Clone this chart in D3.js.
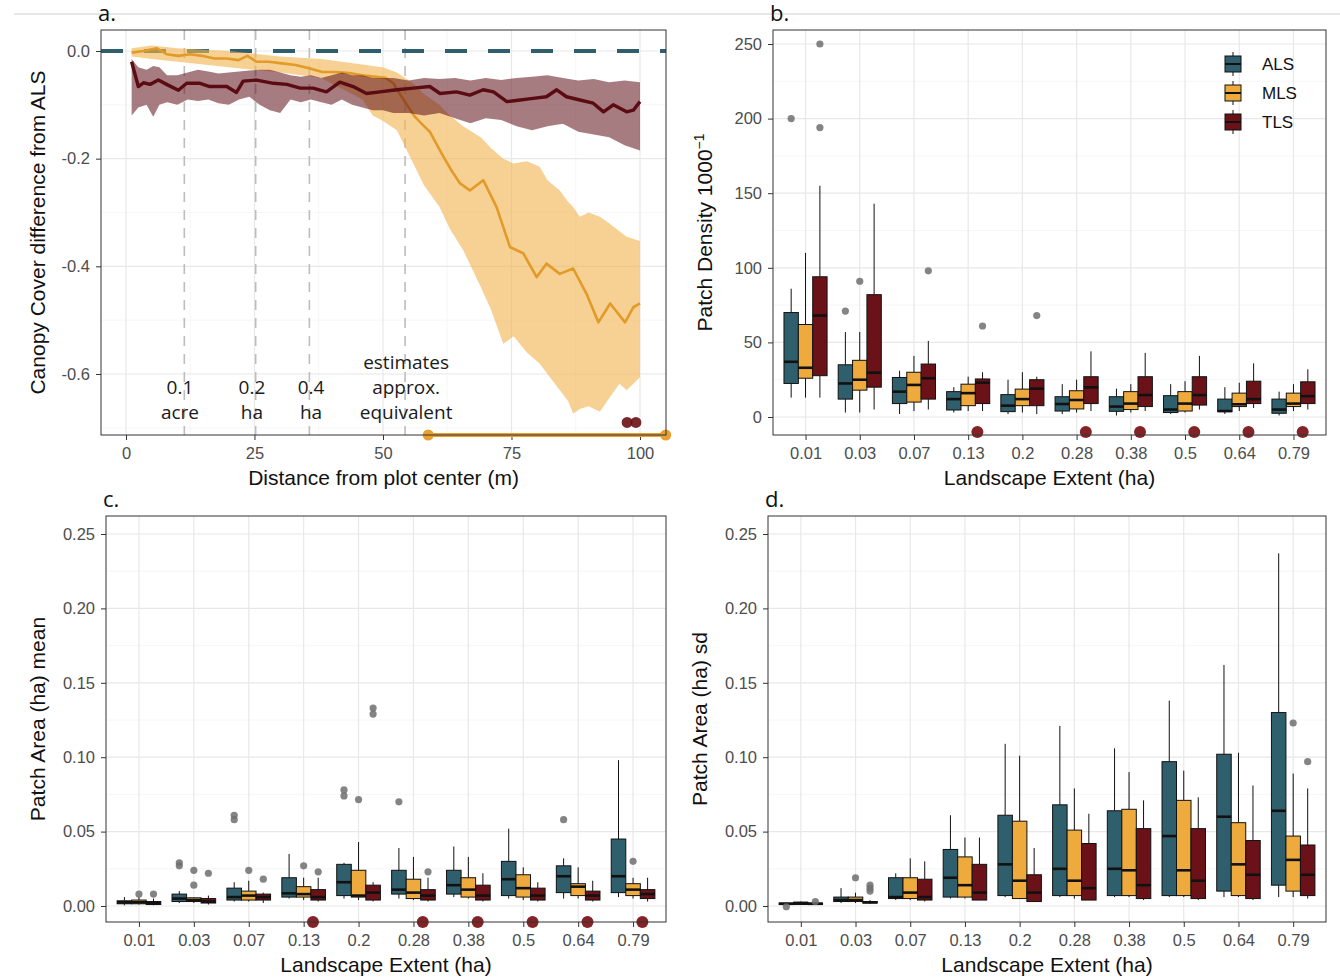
<!DOCTYPE html>
<html>
<head>
<meta charset="utf-8">
<script src="https://cdn.jsdelivr.net/npm/d3@7"></script>
<style>
  body { margin: 0; background: #fff; }
</style>
</head>
<body>
<div id="fig"></div>
<script>
// ---------------- data ----------------
const extents = ["0.01", "0.03", "0.07", "0.13", "0.2", "0.28", "0.38", "0.5", "0.64", "0.79"];
const groups = ["ALS", "MLS", "TLS"];
const groupColors = ["#2f5f6c", "#eeaa3c", "#6b1219"];

// panel a: canopy cover difference from ALS vs distance (m)
const tlsLine = [[1.1,-0.020],[2.4,-0.066],[3.4,-0.059],[4.7,-0.062],[6.3,-0.054],[7.9,-0.062],[10.2,-0.073],
  [11.8,-0.060],[14.4,-0.060],[16.3,-0.066],[19.6,-0.066],[21.5,-0.077],[22.8,-0.056],[25.4,-0.054],[28.7,-0.060],
  [31.3,-0.062],[33.9,-0.069],[36.4,-0.069],[39.0,-0.076],[41.6,-0.058],[44.2,-0.066],[46.8,-0.079],[49.4,-0.076],
  [52.7,-0.072],[55.9,-0.069],[59.1,-0.066],[61.1,-0.079],[64.3,-0.076],[66.9,-0.082],[69.5,-0.072],[71.5,-0.076],
  [74.1,-0.094],[76.7,-0.091],[79.2,-0.088],[81.8,-0.085],[83.8,-0.072],[85.7,-0.085],[88.3,-0.091],[90.9,-0.097],
  [92.9,-0.113],[94.8,-0.100],[97.4,-0.113],[98.7,-0.110],[100,-0.094]];
const tlsBand = [[1.1,-0.015,-0.120],[2.4,-0.030,-0.105],[4,-0.035,-0.100],[5.3,-0.028,-0.122],[6.5,-0.030,-0.100],
  [8,-0.045,-0.095],[10,-0.045,-0.100],[12,-0.040,-0.090],[14,-0.035,-0.093],[16,-0.038,-0.090],[18,-0.042,-0.097],
  [20,-0.040,-0.100],[22,-0.038,-0.090],[24,-0.036,-0.085],[26,-0.035,-0.100],[28,-0.035,-0.110],[30,-0.040,-0.115],
  [32,-0.045,-0.090],[34,-0.048,-0.095],[36,-0.045,-0.090],[38,-0.050,-0.095],[40,-0.045,-0.100],[42,-0.040,-0.090],
  [44,-0.045,-0.100],[46,-0.045,-0.105],[48,-0.050,-0.110],[50,-0.050,-0.110],[52,-0.050,-0.115],[55,-0.055,-0.115],
  [58,-0.050,-0.120],[61,-0.052,-0.115],[64,-0.050,-0.125],[67,-0.055,-0.134],[70,-0.050,-0.125],[73,-0.054,-0.128],
  [76,-0.050,-0.140],[79,-0.048,-0.147],[82,-0.045,-0.140],[85,-0.050,-0.135],[88,-0.055,-0.150],[91,-0.052,-0.155],
  [94,-0.058,-0.160],[97,-0.055,-0.175],[100,-0.058,-0.185]];
const mlsLine = [[1.1,-0.003],[3.4,0.000],[6.0,0.005],[7.9,-0.006],[10.2,-0.009],[12.5,-0.006],[14.8,-0.009],
  [17.2,-0.014],[19.6,-0.014],[21.9,-0.017],[23.6,-0.009],[25.4,-0.020],[27.8,-0.020],[30.4,-0.023],[33.0,-0.026],
  [35.6,-0.032],[38.2,-0.039],[40.8,-0.039],[43.4,-0.041],[46.0,-0.045],[48.6,-0.048],[50.5,-0.050],[52.0,-0.060],
  [53.3,-0.080],[55.0,-0.105],[56.2,-0.122],[57.5,-0.135],[59.1,-0.150],[61.4,-0.190],[63.2,-0.220],[65.0,-0.246],
  [66.9,-0.259],[69.5,-0.240],[72.1,-0.290],[74.7,-0.364],[77.3,-0.376],[79.9,-0.420],[81.8,-0.395],[84.4,-0.414],
  [87.0,-0.404],[89.6,-0.451],[91.9,-0.504],[94.2,-0.469],[97.1,-0.504],[98.7,-0.476],[100,-0.469]];
const mlsBand = [[1.1,0.005,-0.010],[5,0.010,-0.015],[10,0.005,-0.020],[20,0.000,-0.030],[30,-0.010,-0.040],
  [38,-0.015,-0.050],[42,-0.020,-0.070],[46,-0.025,-0.090],[48,-0.028,-0.120],[50,-0.030,-0.130],[52.7,-0.040,-0.147],
  [55.9,-0.060,-0.209],[58,-0.080,-0.250],[61,-0.100,-0.290],[63,-0.120,-0.330],[65.6,-0.140,-0.370],[69,-0.160,-0.438],
  [71,-0.180,-0.480],[73.4,-0.200,-0.544],[75.4,-0.209,-0.530],[78,-0.205,-0.560],[80.5,-0.215,-0.581],[82,-0.240,-0.600],
  [84.4,-0.259,-0.630],[86,-0.280,-0.650],[87,-0.290,-0.674],[88.3,-0.308,-0.665],[90,-0.300,-0.660],[92.2,-0.308,-0.670],
  [94,-0.320,-0.645],[96,-0.335,-0.618],[97.4,-0.345,-0.630],[100,-0.353,-0.606]];
const plotRadii = [11.35, 25.23, 35.68, 54.3];
const radiusLabels = [
  { x: 10.5, lines: ["0.1", "acre"] },
  { x: 24.5, lines: ["0.2", "ha"] },
  { x: 36.0, lines: ["0.4", "ha"] },
  { x: 54.5, lines: ["estimates", "approx.", "equivalent"] }
];
const mlsSigRange = [58.8, 105];
const tlsSigPoints = [97.5, 99.2];

// panel b: patch density, [lower whisker, Q1, median, Q3, upper whisker]
const densALS = [[13,22.5,37,70,86],[3,12,22.5,35,57],[2,9,17,26.5,31],[3,4.7,12,17,20],[2,3.6,7.6,15,25],
  [2,4,8.7,13.6,22],[1,3.8,7,13.6,19],[2,3,5,14.3,22],[2,3.6,4,12,20],[1,2.5,5,12,17]];
const densMLS = [[13,26,33,62,110],[3,18,25,38,57],[4,10,21.5,30,41],[4,7.6,16,22,27],[3,7.6,12,18.7,30],
  [3,5.4,11.4,17.6,25],[3,5,9,17,22],[3,4,9,17,24],[4,7,8.5,16,23],[4,7,9,16,22]];
const densTLS = [[13,27.7,68,94,155],[5,20,29.7,82,143],[5,12,26,35.5,51],[4,9,23,25.5,30],[2,7.6,19,25,27],
  [4,9,19.9,27,44],[4,7,14.7,27,43],[5,8,14.7,27,41],[6,9,12,24,36],[5,9,14,23.6,32]];
const densOutliers = [["0.01","ALS",200],["0.01","TLS",250],["0.01","TLS",194],["0.03","ALS",71],["0.03","MLS",91],
  ["0.07","TLS",98],["0.13","TLS",61],["0.2","TLS",68]];
const densSig = ["0.13", "0.28", "0.38", "0.5", "0.64", "0.79"];

// panel c: patch area mean (ha)
const meanALS = [[0.0005,0.0015,0.0025,0.0035,0.006],[0.002,0.003,0.005,0.008,0.010],[0.003,0.004,0.006,0.012,0.016],
  [0.005,0.006,0.0085,0.019,0.035],[0.005,0.007,0.016,0.028,0.029],[0.005,0.008,0.011,0.024,0.039],
  [0.006,0.008,0.014,0.024,0.040],[0.005,0.007,0.018,0.030,0.052],[0.005,0.009,0.020,0.027,0.032],
  [0.006,0.009,0.020,0.045,0.098]];
const meanMLS = [[0.001,0.0015,0.0025,0.004,0.006],[0.002,0.003,0.004,0.0055,0.006],[0.003,0.004,0.007,0.010,0.017],
  [0.004,0.006,0.008,0.013,0.019],[0.004,0.006,0.007,0.024,0.043],[0.004,0.005,0.009,0.018,0.033],
  [0.005,0.006,0.011,0.019,0.033],[0.004,0.006,0.012,0.021,0.026],[0.005,0.007,0.013,0.015,0.026],
  [0.005,0.007,0.011,0.015,0.019]];
const meanTLS = [[0.0005,0.001,0.002,0.003,0.005],[0.001,0.002,0.003,0.005,0.007],[0.002,0.004,0.006,0.008,0.009],
  [0.003,0.004,0.006,0.011,0.019],[0.003,0.004,0.009,0.014,0.016],[0.003,0.004,0.007,0.011,0.019],
  [0.003,0.004,0.007,0.014,0.022],[0.003,0.004,0.007,0.012,0.016],[0.003,0.004,0.007,0.010,0.017],
  [0.003,0.005,0.008,0.011,0.019]];
const meanOutliers = [["0.01","MLS",0.008],["0.01","TLS",0.008],["0.03","ALS",0.029],["0.03","ALS",0.027],
  ["0.03","MLS",0.024],["0.03","MLS",0.014],["0.03","TLS",0.022],["0.07","ALS",0.061],["0.07","ALS",0.058],
  ["0.07","MLS",0.024],["0.07","TLS",0.018],["0.13","MLS",0.027],["0.13","TLS",0.023],["0.2","ALS",0.078],
  ["0.2","ALS",0.074],["0.2","MLS",0.0715],["0.2","TLS",0.133],["0.2","TLS",0.129],["0.28","ALS",0.070],
  ["0.28","TLS",0.023],["0.64","ALS",0.058],["0.79","MLS",0.030]];
const meanSig = ["0.13", "0.28", "0.38", "0.5", "0.64", "0.79"];

// panel d: patch area sd (ha)
const sdALS = [[0.0008,0.001,0.0015,0.002,0.0025],[0.002,0.003,0.004,0.006,0.012],[0.004,0.005,0.006,0.019,0.022],
  [0.005,0.006,0.019,0.038,0.061],[0.006,0.007,0.028,0.061,0.109],[0.006,0.007,0.025,0.068,0.121],
  [0.006,0.007,0.025,0.064,0.106],[0.006,0.007,0.047,0.097,0.138],[0.006,0.010,0.060,0.102,0.162],
  [0.006,0.014,0.064,0.130,0.237]];
const sdMLS = [[0.001,0.001,0.002,0.0025,0.003],[0.002,0.003,0.004,0.006,0.009],[0.004,0.005,0.009,0.019,0.032],
  [0.005,0.006,0.014,0.033,0.046],[0.005,0.005,0.017,0.057,0.101],[0.005,0.007,0.017,0.051,0.079],
  [0.006,0.007,0.024,0.065,0.090],[0.006,0.007,0.024,0.071,0.091],[0.006,0.007,0.028,0.056,0.103],
  [0.006,0.010,0.031,0.047,0.089]];
const sdTLS = [[0.0008,0.001,0.0015,0.002,0.0025],[0.0015,0.002,0.0025,0.003,0.004],[0.003,0.004,0.006,0.018,0.030],
  [0.004,0.004,0.009,0.028,0.046],[0.003,0.003,0.009,0.021,0.039],[0.004,0.004,0.012,0.042,0.062],
  [0.004,0.005,0.014,0.052,0.071],[0.004,0.005,0.017,0.052,0.073],[0.004,0.005,0.021,0.044,0.081],
  [0.005,0.007,0.021,0.041,0.079]];
const sdOutliers = [["0.01","ALS",-0.0005],["0.01","TLS",0.003],["0.03","MLS",0.019],["0.03","TLS",0.014],
  ["0.03","TLS",0.012],["0.03","TLS",0.010],["0.79","MLS",0.123],["0.79","TLS",0.097]];
const sdSig = [];

// ---------------- drawing ----------------
const tickFont = "Liberation Sans, Arial, sans-serif";
const noteFont = "Open Sans, DejaVu Sans, sans-serif";
const gridMajor = "#e8e8e8";
const gridMinor = "#f4f4f4";

const svg = d3.select("#fig").append("svg")
  .attr("width", 1340).attr("height", 980)
  .style("font-family", tickFont);

svg.append("rect").attr("width", 1340).attr("height", 980).attr("fill", "#fff");
svg.append("line").attr("x1", 14).attr("x2", 1340).attr("y1", 14).attr("y2", 14)
  .attr("stroke", "#cfcfcf").attr("stroke-width", 1);

// common frame: grid, ticks, labels, titles
function drawFrame(f, y, yTicks, yMinor, yFmt, xTickVals, x, xFmt, xMinor, yTitle, xTitle, tag, titleX) {
  const g = svg.append("g");
  g.selectAll(".ymin").data(yMinor).join("line")
    .attr("x1", f.left).attr("x2", f.right).attr("y1", y).attr("y2", y)
    .attr("y1", d => y(d)).attr("y2", d => y(d)).attr("stroke", gridMinor).attr("stroke-width", 0.8);
  g.selectAll(".xmin").data(xMinor).join("line")
    .attr("y1", f.top).attr("y2", f.bottom).attr("x1", d => x(d)).attr("x2", d => x(d))
    .attr("stroke", gridMinor).attr("stroke-width", 0.8);
  g.selectAll(".ymaj").data(yTicks).join("line")
    .attr("x1", f.left).attr("x2", f.right).attr("y1", d => y(d)).attr("y2", d => y(d))
    .attr("stroke", gridMajor).attr("stroke-width", 1.2);
  g.selectAll(".xmaj").data(xTickVals).join("line")
    .attr("y1", f.top).attr("y2", f.bottom).attr("x1", d => x(d)).attr("x2", d => x(d))
    .attr("stroke", gridMajor).attr("stroke-width", 1.2);

  // axes via d3 axis generators
  const yAxis = d3.axisLeft(y).tickValues(yTicks).tickFormat(yFmt).tickSize(5).tickPadding(6);
  const ya = svg.append("g").attr("transform", `translate(${f.left},0)`).call(yAxis);
  const xAxis = d3.axisBottom(x).tickValues(xTickVals).tickFormat(xFmt).tickSize(5).tickPadding(7);
  const xa = svg.append("g").attr("transform", `translate(0,${f.bottom})`).call(xAxis);
  [ya, xa].forEach(a => {
    a.select(".domain").remove();
    a.selectAll(".tick line").attr("stroke", "#333").attr("stroke-width", 1);
    a.selectAll(".tick text").attr("fill", "#4d4d4d").style("font-size", "16.5px").style("font-family", tickFont);
  });

  svg.append("text").attr("transform", `translate(${titleX},${(f.top + f.bottom) / 2}) rotate(-90)`)
    .attr("text-anchor", "middle").style("font-size", "21px").attr("fill", "#111")
    .call(t => {
      if (typeof yTitle === "string") t.text(yTitle);
      else { t.text(yTitle[0]); t.append("tspan").attr("dy", -8).style("font-size", "14px").text(yTitle[1]); }
    });
  svg.append("text").attr("x", (f.left + f.right) / 2).attr("y", f.bottom + 50)
    .attr("text-anchor", "middle").style("font-size", "21px").attr("fill", "#111").text(xTitle);
  svg.append("text").attr("x", f.left - 3).attr("y", f.top - 9)
    .style("font-family", noteFont).style("font-size", "22px").attr("fill", "#111").text(tag);
  return g;
}

function drawBorder(f) {
  svg.append("rect").attr("x", f.left).attr("y", f.top)
    .attr("width", f.right - f.left).attr("height", f.bottom - f.top)
    .attr("fill", "none").attr("stroke", "#333").attr("stroke-width", 1);
}

// ---------- panel a ----------
(function () {
  const f = { left: 101, right: 666, top: 30, bottom: 435 };
  const x = d3.scaleLinear().domain([-4.86, 105.06]).range([f.left, f.right]);
  const y = d3.scaleLinear().domain([-0.7133, 0.039]).range([f.bottom, f.top]);
  drawFrame(f, y, [0, -0.2, -0.4, -0.6], [-0.1, -0.3, -0.5, -0.7], d => d.toFixed(1),
    [0, 25, 50, 75, 100], x, d => d, [12.5, 37.5, 62.5, 87.5],
    "Canopy Cover difference from ALS", "Distance from plot center (m)", "a.", 45);

  svg.append("g").selectAll("line").data(plotRadii).join("line")
    .attr("x1", d => x(d)).attr("x2", d => x(d)).attr("y1", f.top).attr("y2", f.bottom)
    .attr("stroke", "#bdbdbd").attr("stroke-width", 1.6).attr("stroke-dasharray", "10,8");

  svg.append("line").attr("x1", f.left).attr("x2", f.right).attr("y1", y(0)).attr("y2", y(0))
    .attr("stroke", groupColors[0]).attr("stroke-width", 4).attr("stroke-dasharray", "22,21");

  const band = d3.area().x(d => x(d[0])).y0(d => y(d[2])).y1(d => y(d[1]));
  const line = d3.line().x(d => x(d[0])).y(d => y(d[1]));

  svg.append("path").datum(mlsBand).attr("d", band).attr("fill", "#f0b450").attr("fill-opacity", 0.62);
  svg.append("path").datum(mlsLine).attr("d", line).attr("fill", "none")
    .attr("stroke", "#e29a28").attr("stroke-width", 2.6).attr("stroke-linejoin", "round");
  svg.append("path").datum(tlsBand).attr("d", band).attr("fill", "#5e1019").attr("fill-opacity", 0.55);
  svg.append("path").datum(tlsLine).attr("d", line).attr("fill", "none")
    .attr("stroke", "#5a0c12").attr("stroke-width", 3.4).attr("stroke-linejoin", "round");

  // annotations
  radiusLabels.forEach(r => {
    const n = r.lines.length;
    r.lines.forEach((s, i) => {
      svg.append("text").attr("x", x(r.x)).attr("y", 419 - (n - 1 - i) * 25)
        .attr("text-anchor", "middle").style("font-family", noteFont).style("font-size", "19px")
        .attr("fill", "#1a1a1a").text(s);
    });
  });

  // significance markers
  const yb = y.domain()[0];
  svg.append("line").attr("x1", x(mlsSigRange[0])).attr("x2", x(mlsSigRange[1]))
    .attr("y1", y(yb)).attr("y2", y(yb)).attr("stroke", "#e8a030").attr("stroke-width", 4);
  svg.append("g").selectAll("circle").data(mlsSigRange).join("circle")
    .attr("cx", d => x(d)).attr("cy", y(yb)).attr("r", 5.5).attr("fill", "#e8a030");
  svg.append("g").selectAll("circle").data(tlsSigPoints).join("circle")
    .attr("cx", d => x(d)).attr("cy", y(-0.69)).attr("r", 5.5).attr("fill", "#6b0f12").attr("fill-opacity", 0.9);

  drawBorder(f);
})();

// ---------- box panels ----------
function boxPanel(f, yDomain, yTicks, yMinor, yFmt, stats, outliers, sig, sigY, yTitle, tag, titleX) {
  const x = d3.scalePoint().domain(extents).range([f.left, f.right]).padding(0.6);
  const y = d3.scaleLinear().domain(yDomain).range([f.bottom, f.top]);
  drawFrame(f, y, yTicks, yMinor, yFmt, extents, x, d => d, [],
    yTitle, "Landscape Extent (ha)", tag, titleX);

  const step = x.step();
  const bw = step * 0.265;
  const off = g => (groups.indexOf(g) - 1) * bw;

  const g = svg.append("g");
  stats.forEach((arr, gi) => {
    const grp = groups[gi];
    arr.forEach((s, i) => {
      const cx = x(extents[i]) + off(grp);
      const [lo, q1, med, q3, hi] = s;
      g.append("line").attr("x1", cx).attr("x2", cx).attr("y1", y(q3)).attr("y2", y(hi))
        .attr("stroke", "#111").attr("stroke-width", 1);
      g.append("line").attr("x1", cx).attr("x2", cx).attr("y1", y(q1)).attr("y2", y(lo))
        .attr("stroke", "#111").attr("stroke-width", 1);
      g.append("rect").attr("x", cx - bw / 2).attr("y", y(q3))
        .attr("width", bw).attr("height", Math.max(1, y(q1) - y(q3)))
        .attr("fill", groupColors[gi]).attr("stroke", "#111").attr("stroke-width", 1);
      g.append("line").attr("x1", cx - bw / 2).attr("x2", cx + bw / 2).attr("y1", y(med)).attr("y2", y(med))
        .attr("stroke", "#111").attr("stroke-width", 2.6);
    });
  });

  g.selectAll(".out").data(outliers).join("circle")
    .attr("cx", d => x(d[0]) + off(d[1])).attr("cy", d => y(d[2])).attr("r", 3.6)
    .attr("fill", "#6f6f6f").attr("fill-opacity", 0.85);

  g.selectAll(".sig").data(sig).join("circle")
    .attr("cx", d => x(d) + step * 0.17).attr("cy", y(sigY)).attr("r", 6)
    .attr("fill", "#7a1015").attr("fill-opacity", 0.92);

  drawBorder(f);
  return { x, y };
}

// panel b
boxPanel({ left: 773, right: 1326, top: 30, bottom: 435 }, [-12.06, 259.4],
  [0, 50, 100, 150, 200, 250], [25, 75, 125, 175, 225], d => d,
  [densALS, densMLS, densTLS], densOutliers, densSig, -10.1,
  ["Patch Density 1000", "\u22121"], "b.", 712);

// panel c
boxPanel({ left: 106, right: 666, top: 516, bottom: 922 }, [-0.01075, 0.2621],
  [0, 0.05, 0.1, 0.15, 0.2, 0.25], [0.025, 0.075, 0.125, 0.175, 0.225], d => d.toFixed(2),
  [meanALS, meanMLS, meanTLS], meanOutliers, meanSig, -0.0108,
  "Patch Area (ha) mean", "c.", 45);

// panel d
boxPanel({ left: 768, right: 1326, top: 516, bottom: 922 }, [-0.01075, 0.2621],
  [0, 0.05, 0.1, 0.15, 0.2, 0.25], [0.025, 0.075, 0.125, 0.175, 0.225], d => d.toFixed(2),
  [sdALS, sdMLS, sdTLS], sdOutliers, sdSig, -0.0108,
  "Patch Area (ha) sd", "d.", 707);

// legend (panel b)
const legend = svg.append("g").attr("transform", "translate(1233,64)");
const items = legend.selectAll("g").data(groups).join("g")
  .attr("transform", (d, i) => `translate(0,${i * 29})`);
items.append("line").attr("y1", -12).attr("y2", 12).attr("stroke", "#111").attr("stroke-width", 1);
items.append("rect").attr("x", -8).attr("y", -8).attr("width", 16).attr("height", 16)
  .attr("fill", (d, i) => groupColors[i]).attr("stroke", "#111").attr("stroke-width", 1);
items.append("line").attr("x1", -8).attr("x2", 8).attr("stroke", "#111").attr("stroke-width", 2);
items.append("text").attr("x", 29).attr("y", 6).style("font-size", "17px").attr("fill", "#111").text(d => d);
</script>
</body>
</html>
